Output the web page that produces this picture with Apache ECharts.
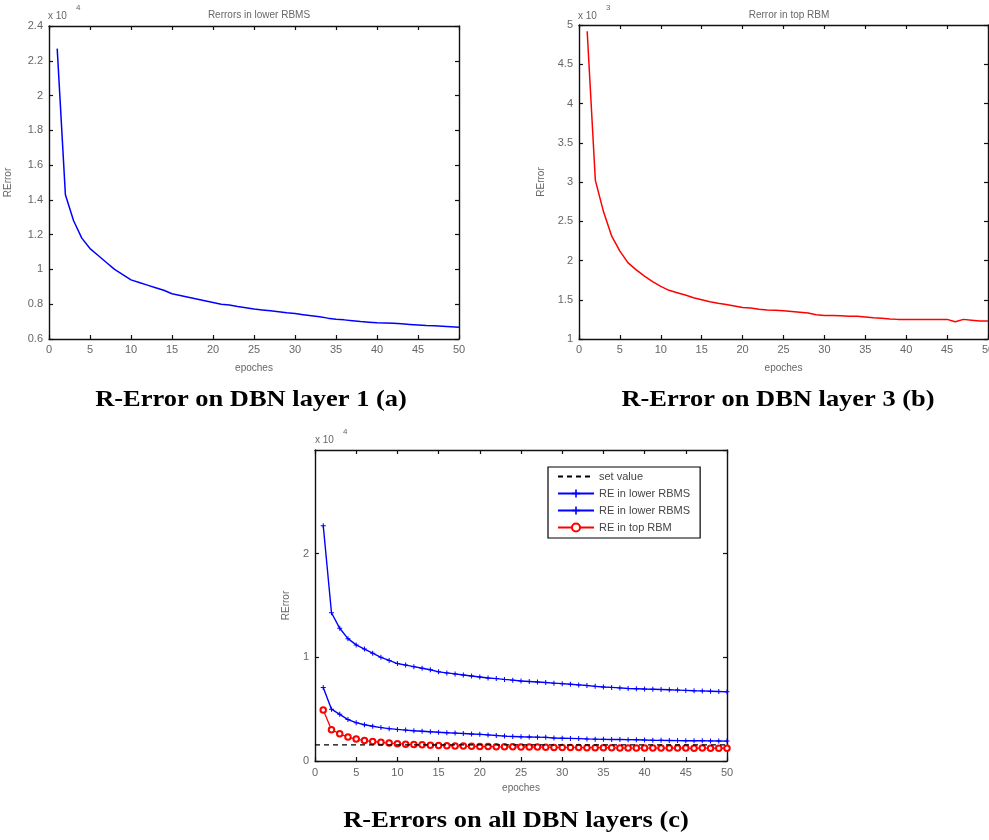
<!DOCTYPE html>
<html><head><meta charset="utf-8">
<script src="https://cdn.jsdelivr.net/npm/echarts@6/dist/echarts.min.js"></script>
<style>html,body{margin:0;padding:0;background:#fff}#c{width:989px;height:840px}</style>
</head><body><div id="c"></div>
<script>
// ---------- data ----------
const epochs = [1,2,3,4,5,6,7,8,9,10,11,12,13,14,15,16,17,18,19,20,21,22,23,24,25,26,27,28,29,30,31,32,33,34,35,36,37,38,39,40,41,42,43,44,45,46,47,48,49,50];
// reconstruction error, lower RBM (layer 1)
const lowerRBM1 = [22700,14300,12800,11800,11200,10800,10400,10000,9700,9400,9250,9100,8950,8800,8600,8500,8400,8300,8200,8100,8000,7950,7870,7800,7720,7670,7620,7570,7510,7460,7400,7340,7280,7200,7140,7100,7050,7000,6970,6940,6920,6900,6870,6840,6810,6780,6760,6730,6700,6670];
// reconstruction error, lower RBM (layer 2)
const lowerRBM2 = [7100,5000,4500,4000,3700,3500,3350,3220,3120,3050,2980,2920,2870,2820,2770,2730,2690,2650,2610,2570,2520,2460,2400,2370,2340,2320,2300,2280,2220,2200,2180,2160,2130,2110,2090,2080,2070,2060,2050,2020,2000,1990,1980,1970,1960,1960,1950,1940,1930,1920];
// reconstruction error, top RBM (layer 3)
const topRBM = [4920,3020,2620,2310,2120,1970,1880,1800,1730,1670,1620,1590,1560,1525,1500,1475,1455,1440,1420,1400,1395,1380,1370,1365,1360,1350,1340,1330,1310,1300,1300,1295,1290,1290,1280,1270,1265,1255,1250,1250,1250,1250,1250,1250,1250,1220,1250,1240,1230,1230];
const setValue = 1550;
const setValueRange = [0, 50];

const titles = ['Rerrors in lower RBMS', 'Rerror in top RBM'];
const captions = ['R-Error on DBN layer 1 (a)', 'R-Error on DBN layer 3 (b)', 'R-Errors on all DBN layers (c)'];
const legendNames = ['set value', 'RE in lower RBMS', 'RE in lower RBMS ', 'RE in top RBM'];

// ---------- helpers ----------
const pairs = arr => epochs.map((e, i) => [e, arr[i]]);
const SANS = 'Liberation Sans, Arial, sans-serif';
const AX = '#111';
const LBL = '#666';
const PLUS = 'path://M4,0h2v4h4v2h-4v4h-2v-4h-4v-2h4z';

function xAxes(g, gap, margin) {
  const base = {
    gridIndex: g, type: 'value', min: 0, max: 50, interval: 5,
    axisLine: { show: true, onZero: false, lineStyle: { color: AX, width: 1.4 } },
    axisTick: { show: true, inside: true, length: 4, lineStyle: { color: AX, width: 1.2 } },
    splitLine: { show: false }
  };
  return [
    Object.assign({}, base, {
      position: 'bottom',
      axisLabel: { color: LBL, fontSize: 11, fontFamily: SANS, margin: margin },
      name: 'epoches', nameLocation: 'middle', nameGap: gap,
      nameTextStyle: { color: LBL, fontSize: 10, fontFamily: SANS }
    }),
    Object.assign({}, base, { position: 'top', axisLabel: { show: false } })
  ];
}
function yAxes(g, min, max, interval, div, gap, hideMax) {
  const base = {
    gridIndex: g, type: 'value', min: min, max: max, interval: interval,
    axisLine: { show: true, onZero: false, lineStyle: { color: AX, width: 1.4 } },
    axisTick: { show: true, inside: true, length: 4, lineStyle: { color: AX, width: 1.2 } },
    splitLine: { show: false }
  };
  return [
    Object.assign({}, base, {
      position: 'left',
      axisLabel: { color: LBL, fontSize: 11, fontFamily: SANS, margin: 6, showMaxLabel: !hideMax,
        formatter: v => String(+(v / div).toFixed(2)) },
      name: 'RError', nameLocation: 'middle', nameGap: gap, nameRotate: 90,
      nameTextStyle: { color: LBL, fontSize: 10, fontFamily: SANS }
    }),
    Object.assign({}, base, { position: 'right', axisLabel: { show: false } })
  ];
}

const xs = [].concat(xAxes(0, 24, 5), xAxes(1, 24, 5), xAxes(2, 22, 6));
const ys = [].concat(yAxes(0, 6000, 24000, 2000, 1e4, 36, false),
                     yAxes(1, 1000, 5000, 500, 1e3, 33, false),
                     yAxes(2, 0, 30000, 10000, 1e4, 24, true));

function expLabel(x, y, exp) {
  return [
    { type: 'text', x: x, y: y, style: { text: 'x 10', fill: LBL, font: '10px ' + SANS, verticalAlign: 'middle' } },
    { type: 'text', x: x + 28, y: y - 8, style: { text: exp, fill: LBL, font: '8px ' + SANS, verticalAlign: 'middle' } }
  ];
}
function caption(x, y, t) {
  return { type: 'text', x: x, y: y, scaleX: 1.15,
    style: { text: t, fill: '#000', font: 'bold 23px "Liberation Serif", "Times New Roman", serif', align: 'center', verticalAlign: 'middle' } };
}

const option = {
  animation: false,
  backgroundColor: '#fff',
  title: [
    { text: titles[0], left: 254, top: 5, textAlign: 'center', textStyle: { color: LBL, fontSize: 10, fontWeight: 'normal', fontFamily: SANS } },
    { text: titles[1], left: 784, top: 5, textAlign: 'center', textStyle: { color: LBL, fontSize: 10, fontWeight: 'normal', fontFamily: SANS } }
  ],
  grid: [
    { left: 49, top: 26, width: 410, height: 313, outerBoundsMode: 'none', containLabel: false },
    { left: 579, top: 25, width: 409, height: 314, outerBoundsMode: 'none', containLabel: false },
    { left: 315, top: 450, width: 412, height: 311, outerBoundsMode: 'none', containLabel: false }
  ],
  xAxis: xs,
  yAxis: ys,
  legend: {
    data: legendNames,
    left: 548, top: 467, orient: 'vertical',
    padding: [4, 7, 5, 9], itemGap: 6, itemWidth: 36, itemHeight: 10,
    borderColor: '#000', borderWidth: 1.2, backgroundColor: '#fff',
    textStyle: { color: '#444', fontSize: 11, fontFamily: SANS },
    selectedMode: false
  },
  graphic: [].concat(
    expLabel(48, 16, '4'), expLabel(578, 16, '3'), expLabel(315, 440, '4'),
    [caption(251, 400, captions[0]), caption(778, 400, captions[1]), caption(516, 821, captions[2])]
  ),
  series: [
    { name: 'layer1 (a)', type: 'line', xAxisIndex: 0, yAxisIndex: 0, data: pairs(lowerRBM1),
      symbol: 'none', lineStyle: { color: '#0000ff', width: 1.5 }, itemStyle: { color: '#0000ff' } },
    { name: 'layer3 (b)', type: 'line', xAxisIndex: 2, yAxisIndex: 2, data: pairs(topRBM),
      symbol: 'none', lineStyle: { color: '#ff0000', width: 1.5 }, itemStyle: { color: '#ff0000' } },
    { name: legendNames[1], type: 'line', xAxisIndex: 4, yAxisIndex: 4, data: pairs(lowerRBM1),
      symbol: PLUS, symbolSize: 5, lineStyle: { color: '#0000ff', width: 1.4 }, itemStyle: { color: '#0000ff' } },
    { name: legendNames[2], type: 'line', xAxisIndex: 4, yAxisIndex: 4, data: pairs(lowerRBM2),
      symbol: PLUS, symbolSize: 5, lineStyle: { color: '#0000ff', width: 1.4 }, itemStyle: { color: '#0000ff' } },
    { name: legendNames[3], type: 'line', xAxisIndex: 4, yAxisIndex: 4, data: pairs(topRBM),
      symbol: 'emptyCircle', symbolSize: 5.5, lineStyle: { color: '#ff0000', width: 1.3 },
      itemStyle: { color: '#ff0000', borderColor: '#ff0000', borderWidth: 1 } },
    { name: legendNames[0], type: 'line', xAxisIndex: 4, yAxisIndex: 4, z: 5,
      data: setValueRange.map(x => [x, setValue]),
      symbol: 'circle', showSymbol: false,
      lineStyle: { color: '#000', width: 1.3, type: [5, 4] }, itemStyle: { color: 'rgba(0,0,0,0)', borderWidth: 0 } }
  ]
};
const chart = echarts.init(document.getElementById('c'), null, { renderer: 'canvas' });
chart.setOption(option);
</script>
</body></html>
